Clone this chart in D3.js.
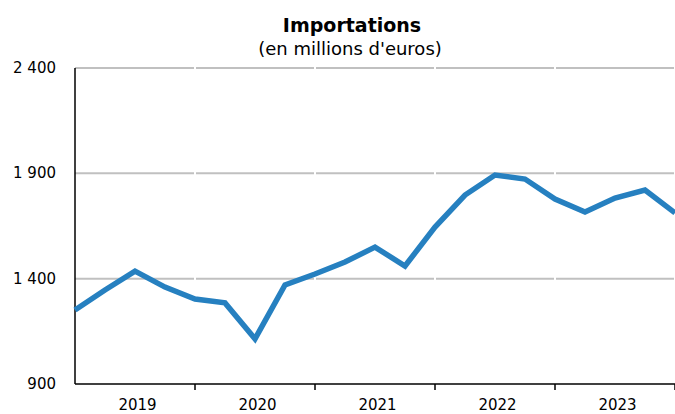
<!DOCTYPE html>
<html><head><meta charset="utf-8">
<script src="https://cdn.jsdelivr.net/npm/d3@7"></script>
<style>body{margin:0;background:#fff}svg{display:block}text{font-family:"DejaVu Sans",Verdana,sans-serif;fill:#000}</style>
</head><body><svg id="c" width="675" height="414"></svg>
<script>
const quarters = ["2019-T1","2019-T2","2019-T3","2019-T4","2020-T1","2020-T2","2020-T3","2020-T4","2021-T1","2021-T2","2021-T3","2021-T4","2022-T1","2022-T2","2022-T3","2022-T4","2023-T1","2023-T2","2023-T3","2023-T4","2024-T1"];
const values = [1251,1346,1436,1360,1303,1285,1114,1370,1422,1479,1550,1460,1645,1797,1892,1873,1778,1716,1783,1821,1712];
const years = ["2019","2020","2021","2022","2023"];
const yTicks = [900,1400,1900,2400];
const title = "Importations";
const subtitle = "(en millions d'euros)";

const svg = d3.select("#c");
const L = 75, R = 675, T = 68, B = 384;
const x = d3.scalePoint().domain(quarters).range([L, R]).padding(0);
const y = d3.scaleLinear().domain([900, 2400]).range([B, T]);
const yearStart = i => x(quarters[i*4]);
const yearEnd = i => x(quarters[i*4+4]);

// gridlines, segmented per year
yTicks.filter(t => t > 900).forEach(t => {
  years.forEach((yr, i) => {
    svg.append("line")
      .attr("x1", yearStart(i) + (i === 0 ? 0 : 1)).attr("x2", yearEnd(i) - 1)
      .attr("y1", y(t)).attr("y2", y(t))
      .attr("stroke", "#c0c0c0").attr("stroke-width", 2);
  });
});

// y labels
svg.append("g").selectAll("text").data(yTicks).join("text")
  .attr("x", 56).attr("y", d => y(d) + 5)
  .attr("text-anchor", "end").attr("font-size", 15)
  .text(d => d3.format(",")(d).replace(",", " "));

// axes lines
svg.append("line").attr("x1", L).attr("x2", L).attr("y1", T).attr("y2", B)
  .attr("stroke", "#000").attr("stroke-width", 1.5);
svg.append("line").attr("x1", L).attr("x2", R).attr("y1", B).attr("y2", B)
  .attr("stroke", "#000").attr("stroke-width", 1.5);
// year ticks
svg.append("g").selectAll("line").data(d3.range(1, years.length + 1)).join("line")
  .attr("x1", i => x(quarters[i*4])).attr("x2", i => x(quarters[i*4]))
  .attr("y1", B).attr("y2", B + 6).attr("stroke", "#000").attr("stroke-width", 1.5);
// year labels
svg.append("g").selectAll("text").data(years).join("text")
  .attr("x", (d, i) => (yearStart(i) + yearEnd(i)) / 2 + 2.5)
  .attr("y", 410).attr("text-anchor", "middle").attr("font-size", 15)
  .text(d => d);

// line
svg.append("path").datum(values)
  .attr("d", d3.line().x((d, i) => x(quarters[i])).y(d => y(d)))
  .attr("fill", "none").attr("stroke", "#2680c0").attr("stroke-width", 5.5)
  .attr("stroke-linejoin", "miter");

// titles
svg.append("text").attr("x", 352).attr("y", 32).attr("text-anchor", "middle")
  .attr("font-size", 19).attr("font-weight", "bold").text(title);
svg.append("text").attr("x", 350).attr("y", 55).attr("text-anchor", "middle")
  .attr("font-size", 18).text(subtitle);
</script></body></html>
